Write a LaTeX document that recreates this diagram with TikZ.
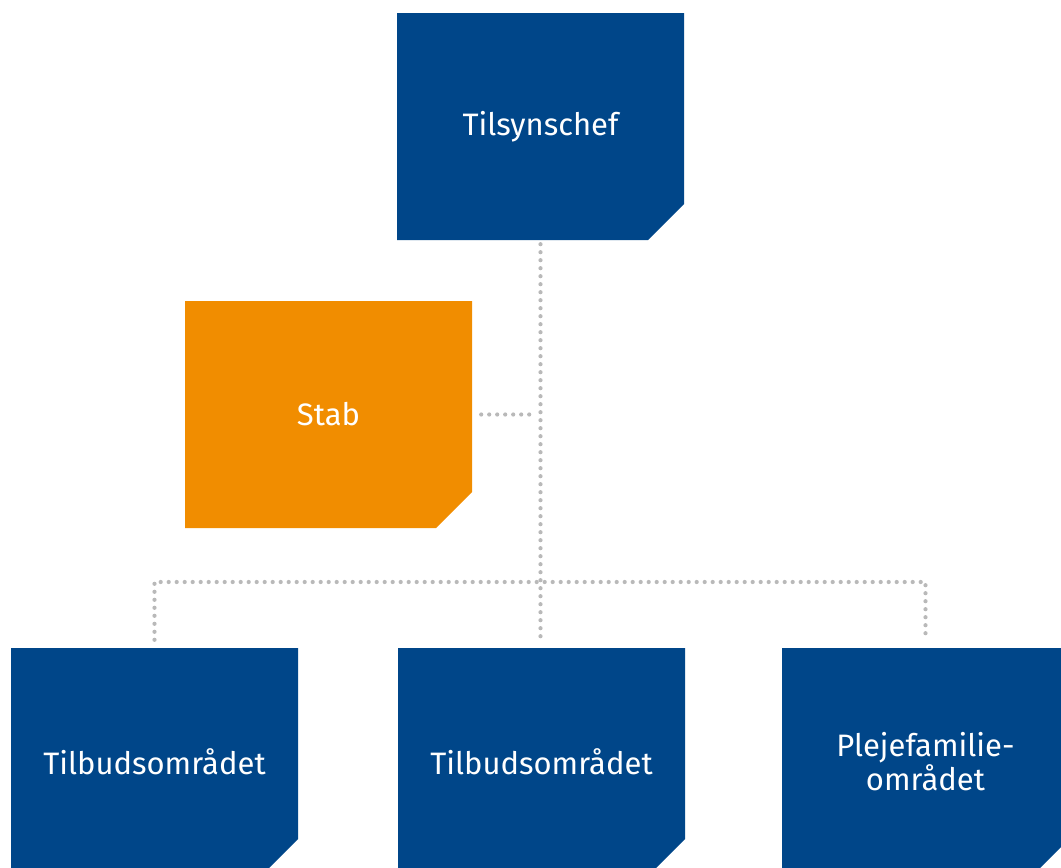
\documentclass[tikz,border=0pt]{standalone}
\usepackage{fontspec}
\setmainfont{Fira Sans}
\usetikzlibrary{positioning,calc}
\definecolor{orgblue}{RGB}{0,70,137}
\definecolor{orgorange}{RGB}{241,141,0}
\definecolor{dotgrey}{RGB}{185,185,185}
\tikzstyle{unit} = [rectangle, minimum width=287pt, minimum height=227pt, inner sep=0pt, text=white, text centered, font=\fontsize{31}{30}\selectfont,
  path picture={\fill[unitfill] (path picture bounding box.north west) -- (path picture bounding box.north east) -- ([yshift=36pt]path picture bounding box.south east) -- ([xshift=-36pt]path picture bounding box.south east) -- (path picture bounding box.south west) -- cycle;}]
\tikzset{link/.style = {
    draw=dotgrey, line width=4.2pt, line cap=round,
    dash pattern=on 0pt off 8pt,
  }
}

\begin{document}
\begin{tikzpicture}[x=1pt, y=-1pt]
          \useasboundingbox (0,0) rectangle (1061,868);
          \clip (0,0) rectangle (1061,868);
          % vertices
          \colorlet{unitfill}{orgblue}
          \node[unit] (chef) at (540.5,126.5) {Tilsynschef};
          \colorlet{unitfill}{orgorange}
          \node[unit] (stab) at (328.5,414.5) {Stab};

          \colorlet{unitfill}{orgblue}
          \node[unit] (tilbud1) at (154.5,761.5) {Tilbudsområdet};
          \node[unit] (tilbud2) at (541.5,761.5) {Tilbudsområdet};
          \node[unit, text width=220pt, align=center] (pleje) at (925.5,761.5) {Plejefamilie-\\området};

          \coordinate (bar) at (540,582);

          % edges
          \draw[link, shorten <=4pt, shorten >=8pt] (chef.south) -- (chef.south |- tilbud2.north);
          \draw[link, shorten <=9pt, shorten >=8pt] (stab.east) -- (stab.east -| chef.south);
          \draw[link, shorten <=8pt, shorten >=8pt] (tilbud1.north) -- (tilbud1.north |- bar) -- (pleje.north |- bar) -- (pleje.north);
        \end{tikzpicture}
\end{document}
